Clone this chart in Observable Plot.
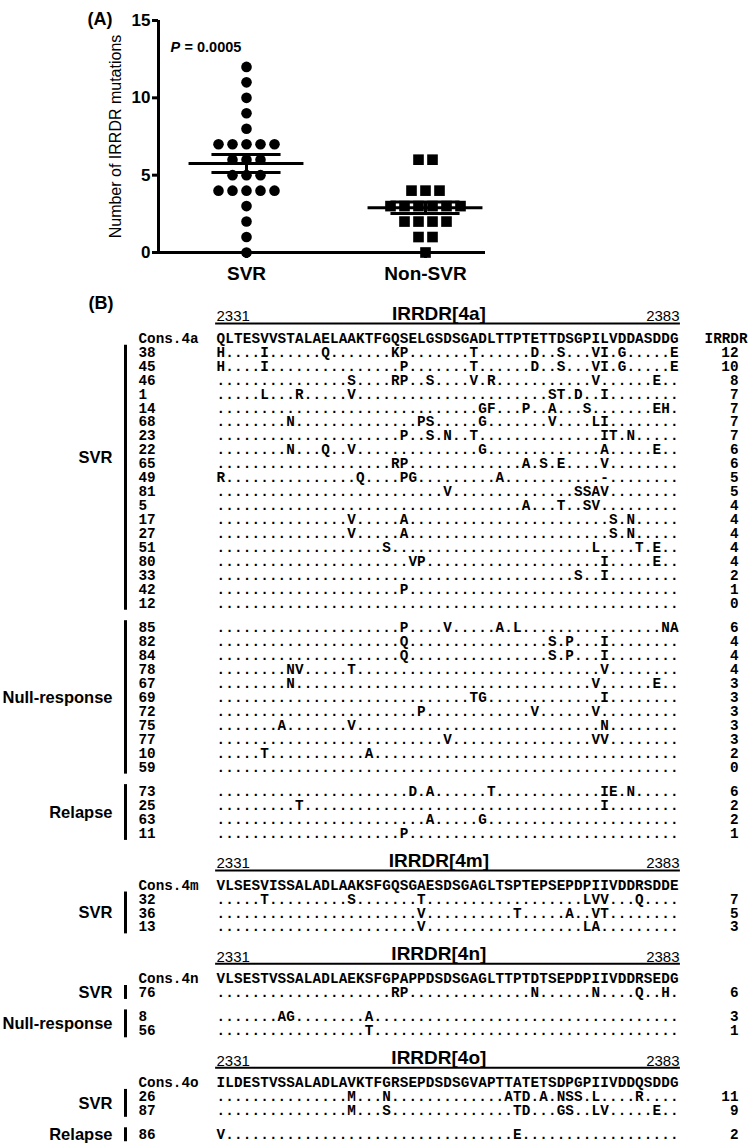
<!DOCTYPE html>
<html><head><meta charset="utf-8">
<script src="https://cdn.jsdelivr.net/npm/d3@7"></script>
<script src="https://cdn.jsdelivr.net/npm/@observablehq/plot@0.6"></script>
<style>
html,body{margin:0;padding:0;background:#fff;}
#chart svg{display:block;}
</style></head><body><div id="chart"></div>
<script>
// ================= DATA =================
const START = 2331, END = 2383;
const cons4a = "QLTESVVSTALAELAAKTFGQSELGSDSGADLTTPTETTDSGPILVDDASDDG";
const cons4m = "VLSESVISSALADLAAKSFGQSGAESDSGAGLTSPTEPSEPDPIIVDDRSDDE";
const cons4n = "VLSESTVSSALADLAEKSFGPAPPDSDSGAGLTTPTDTSEPDPIIVDDRSEDG";
const cons4o = "ILDESTVSSALADLAVKTFGRSEPDSDSGVAPTTATETSDPGPIIVDDQSDDG";

// [patient, substitutions vs consensus (residue numbering), IRRDR mutation count]
const svr4a = [
  ["38", "H2331 I2336 Q2343 K2351 P2352 T2360 D2367 S2370 V2374 I2375 G2377 E2383", 12],
  ["45", "H2331 I2336 P2352 T2360 D2367 S2370 V2374 I2375 G2377 E2383", 10],
  ["46", "S2346 R2351 P2352 S2355 V2360 R2362 V2374 E2381", 8],
  ["1",  "L2336 R2340 V2346 S2369 T2370 D2372 I2375", 7],
  ["14", "G2361 F2362 P2366 A2369 S2373 E2381 H2382", 7],
  ["68", "N2339 P2354 S2355 G2361 V2369 L2374 I2375", 7],
  ["23", "P2352 S2355 N2357 T2360 I2375 T2376 N2378", 7],
  ["22", "N2339 Q2343 V2346 G2361 A2375 E2381", 6],
  ["65", "R2351 P2352 A2366 S2368 E2370 V2375", 6],
  ["49", "R2331 Q2347 P2352 G2353 A2363 -2375", 5],
  ["81", "V2357 S2372 S2373 A2374 V2375", 5],
  ["5",  "A2366 T2370 S2373 V2374", 4],
  ["17", "V2346 A2352 S2376 N2378", 4],
  ["27", "V2346 A2352 S2376 N2378", 4],
  ["51", "S2350 L2374 T2379 E2381", 4],
  ["80", "V2353 P2354 I2375 E2381", 4],
  ["33", "S2372 I2375", 2],
  ["42", "P2352", 1],
  ["12", "", 0]
];
const null4a = [
  ["85", "P2352 V2357 A2363 L2365 N2382 A2383", 6],
  ["82", "Q2352 S2369 P2371 I2375", 4],
  ["84", "Q2352 S2369 P2371 I2375", 4],
  ["78", "N2339 V2340 T2346 V2375", 4],
  ["67", "N2339 V2374 E2381", 3],
  ["69", "T2360 G2361 I2375", 3],
  ["72", "P2354 V2367 V2374", 3],
  ["75", "A2338 V2346 N2375", 3],
  ["77", "V2357 V2374 V2375", 3],
  ["10", "T2336 A2348", 2],
  ["59", "", 0]
];
const rel4a = [
  ["73", "D2353 A2355 T2362 I2375 E2376 N2378", 6],
  ["25", "T2340 I2375", 2],
  ["63", "A2355 G2361", 2],
  ["11", "P2352", 1]
];
const svr4m = [
  ["32", "T2336 S2346 T2354 L2373 V2374 V2375 Q2379", 7],
  ["36", "V2354 T2365 A2371 V2374 T2375", 5],
  ["13", "V2354 L2373 A2374", 3]
];
const svr4n = [["76", "R2351 P2352 N2367 N2374 Q2379 H2382", 6]];
const null4n = [
  ["8",  "A2338 G2339 A2348", 3],
  ["56", "T2348", 1]
];
const svr4o = [
  ["26", "M2346 N2350 A2364 T2365 D2366 A2368 N2370 S2371 S2372 L2374 R2379", 11],
  ["87", "M2346 S2350 T2365 D2366 G2370 S2371 L2374 V2375 E2381", 9]
];
const rel4o = [["86", "V2331 E2365", 2]];

const pValueText = "= 0.0005";
const yTicksA = [0, 5, 10, 15];

// ================= STYLE / LAYOUT =================
const SANS = "'Liberation Sans', Arial, Helvetica, sans-serif";
const MONO = "'Liberation Mono', 'Courier New', monospace";
const INK = "#000";

// ---------- Panel A ----------
const svrCounts = [...svr4a, ...svr4m, ...svr4n, ...svr4o].map(d => d[2]);
const nonSvrCounts = [...null4a, ...rel4a, ...null4n, ...rel4o].map(d => d[2]);
const groupsA = [
  {name: "SVR", center: 1, values: svrCounts},
  {name: "Non-SVR", center: 2, values: nonSvrCounts}
];
const PX_PER_UNIT = 179;           // px between the two group centres
const SP = 14 / PX_PER_UNIT;       // spacing of tied points
const xMinA = 1 - 88 / PX_PER_UNIT, xMaxA = 2 + 60 / PX_PER_UNIT;
const ptsA = [];
for (const g of groupsA) {
  for (const [v, arr] of d3.group(g.values, v => v)) {
    arr.forEach((_, k) => ptsA.push({group: g.name, value: v, x: g.center + (k - (arr.length - 1) / 2) * SP}));
  }
}
const statsA = groupsA.map(g => ({
  name: g.name, center: g.center,
  mean: d3.mean(g.values),
  sem: d3.deviation(g.values) / Math.sqrt(g.values.length)
}));
const semEnds = statsA.flatMap(s => [{...s, y: s.mean + s.sem}, {...s, y: s.mean - s.sem}]);

const plotA = Plot.plot({
  width: 750, height: 290,
  marginLeft: 158, marginRight: 265, marginTop: 20, marginBottom: 38,
  x: {domain: [xMinA, xMaxA], axis: null},
  y: {domain: [0, 15]},
  style: {fontFamily: SANS, color: INK, background: "#fff", overflow: "visible"},
  marks: [
    Plot.axisY({ticks: yTicksA, tickSize: 6, tickPadding: 2, fontSize: 17, fontWeight: "bold", strokeWidth: 3, label: null, tickFormat: d => String(d)}),
    Plot.ruleX([xMinA], {y1: 0, y2: 15, strokeWidth: 3}),
    Plot.ruleY([0], {strokeWidth: 3}),
    Plot.ruleX(statsA, {x: "center", y1: 0, y2: 0, insetBottom: -6, strokeWidth: 3}),
    Plot.dot(ptsA.filter(d => d.group === "SVR"), {x: "x", y: "value", r: 5.3, fill: INK}),
    Plot.dot(ptsA.filter(d => d.group === "Non-SVR"), {x: "x", y: "value", r: 6, symbol: "square", fill: INK}),
    Plot.ruleY(statsA, {y: "mean", x1: d => d.center - 0.321, x2: d => d.center + 0.321, strokeWidth: 3}),
    Plot.ruleY(semEnds, {y: "y", x1: d => d.center - 0.193, x2: d => d.center + 0.193, strokeWidth: 3}),
    Plot.ruleX(statsA, {x: "center", y1: d => d.mean - d.sem, y2: d => d.mean + d.sem, strokeWidth: 3}),
    Plot.text(groupsA, {x: "center", y: () => 0, text: "name", dy: 21, fontSize: 19, fontWeight: "bold"}),
    Plot.text(["Number of IRRDR mutations"], {text: d => d, frameAnchor: "left", textAnchor: "middle", rotate: -90, dx: -43, fontSize: 16}),
    Plot.text(["(A)"], {text: d => d, frameAnchor: "top-left", dx: -71, dy: -8, textAnchor: "start", fontSize: 18, fontWeight: "bold"}),
    Plot.text(["P"], {text: d => d, frameAnchor: "top-left", dx: 12, dy: 21, textAnchor: "start", fontSize: 14.5, fontWeight: "bold", fontStyle: "italic"}),
    Plot.text([pValueText], {text: d => d, frameAnchor: "top-left", dx: 26, dy: 21, textAnchor: "start", fontSize: 14.5, fontWeight: "bold"})
  ]
});

// ---------- Panel B ----------
const blocks = [
  {sub: "4a", cons: cons4a, groups: [["SVR", svr4a], ["Null-response", null4a], ["Relapse", rel4a]]},
  {sub: "4m", cons: cons4m, groups: [["SVR", svr4m]]},
  {sub: "4n", cons: cons4n, groups: [["SVR", svr4n], ["Null-response", null4n]]},
  {sub: "4o", cons: cons4o, groups: [["SVR", svr4o], ["Relapse", rel4o]]}
];
const LEN = END - START + 1;
function applySubs(cons, subs) {
  if (cons.length !== LEN) throw new Error("bad consensus length " + cons.length);
  const chars = Array(LEN).fill(".");
  subs.split(/\s+/).filter(Boolean).forEach(t => {
    const pos = +t.slice(1) - START;
    if (!(pos >= 0 && pos < LEN)) throw new Error("bad substitution " + t);
    chars[pos] = t[0];
  });
  return chars.join("");
}
const ROW_PX = 13.95, H_B = 856;
const PITCH = 8.72, SEQ_LEFT = 216;
const px2col = p => (p - SEQ_LEFT) / PITCH - 0.5;
const px2line = p => p / ROW_PX;

const GROUP_GAP = 1.75, BLOCK_GAP = 2.65, RULE_TO_CONS = 1.05;
// where a group's label sits within its bracket (0 = top, 1 = bottom)
const labelFrac = {"4a SVR": 0.42};
let line = 2.37;
const headers = [], rowsB = [], spans = [];
for (const b of blocks) {
  headers.push({sub: b.sub, line});
  line += RULE_TO_CONS;
  rowsB.push({label: "Cons." + b.sub, seq: b.cons, line, cons: true, sub: b.sub});
  b.groups.forEach(([name, list], gi) => {
    line += gi === 0 ? 1 : GROUP_GAP;
    const first = line;
    list.forEach(([id, subs, n], k) => {
      if (k > 0) line += 1;
      rowsB.push({label: id, seq: applySubs(b.cons, subs), line, count: n});
    });
    const f = labelFrac[b.sub + " " + name] ?? 0.5;
    spans.push({name, first, last: line, mid: first + (line - first) * f});
  });
  line += BLOCK_GAP;
}
const cells = rowsB.flatMap(r => Array.from(r.seq, (ch, i) => ({ch, col: i, line: r.line})));

const monoText = {fontFamily: MONO, fontWeight: "bold", fontSize: 14.3};
const plotB = Plot.plot({
  width: 750, height: H_B, margin: 0,
  x: {domain: [px2col(0), px2col(750)], range: [0, 750], axis: null},
  y: {domain: [0, H_B / ROW_PX], range: [0, H_B], axis: null},
  style: {fontFamily: SANS, color: INK, background: "#fff"},
  marks: [
    Plot.text(["(B)"], {text: d => d, x: () => px2col(88), y: () => px2line(13), textAnchor: "start", fontSize: 18, fontWeight: "bold"}),
    Plot.text(headers, {x: () => 25, y: d => d.line - 0.68, text: d => `IRRDR[${d.sub}]`, fontSize: 19, fontWeight: "bold"}),
    Plot.text(headers, {x: () => -0.5, y: d => d.line - 0.5, text: () => String(START), textAnchor: "start", fontSize: 15}),
    Plot.text(headers, {x: () => 52.6, y: d => d.line - 0.5, text: () => String(END), textAnchor: "end", fontSize: 15}),
    Plot.ruleY(headers, {y: "line", x1: () => -0.6, x2: () => 52.7, strokeWidth: 2}),
    Plot.text(cells, {x: "col", y: "line", text: "ch", ...monoText}),
    Plot.text(rowsB, {x: () => px2col(138), y: "line", text: "label", textAnchor: "start", ...monoText}),
    Plot.text(rowsB.filter(d => !d.cons), {x: () => px2col(738), y: "line", text: d => String(d.count), textAnchor: "end", ...monoText}),
    Plot.text(rowsB.filter(d => d.sub === "4a"), {x: () => px2col(747), y: "line", text: () => "IRRDR", textAnchor: "end", ...monoText}),
    Plot.ruleX(spans, {x: () => px2col(125), y1: d => d.first - 0.5, y2: d => d.last + 0.5, strokeWidth: 3}),
    Plot.text(spans, {x: () => px2col(112), y: "mid", text: "name", textAnchor: "end", fontSize: 16.5, fontWeight: "bold"})
  ]
});

const root = document.getElementById("chart");
root.append(plotA, plotB);
</script>
</body></html>
